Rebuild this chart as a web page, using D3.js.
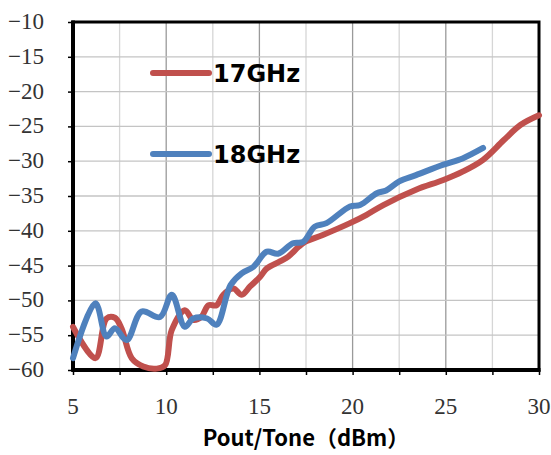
<!DOCTYPE html>
<html><head><meta charset="utf-8">
<script src="https://cdn.jsdelivr.net/npm/d3@7"></script>
<style>body{margin:0;background:#fff}
text.tl{font-family:'Liberation Serif','Times New Roman',serif;font-size:23px;fill:#333;}
</style>
</head><body>
<svg id="c" width="551" height="455"></svg>
<script>
const xTicks = [5, 10, 15, 20, 25, 30];
const yTicks = [-10, -15, -20, -25, -30, -35, -40, -45, -50, -55, -60];
const seriesNames = ["17GHz", "18GHz"];
const colors = ["#C0504D", "#4F81BD"];
const red17x = [5, 6.2, 6.8, 7.25, 7.6, 8.15, 8.77, 9.5, 9.94, 10.3, 11.0, 11.45, 11.9, 12.26, 12.7, 13.06, 13.6, 14.05, 14.5, 15.04, 15.4, 16.1, 16.55, 17.1, 17.45, 18.4, 19.86, 20.75, 21.65, 23.4, 24.87, 25.9, 27.0, 28.1, 29.0, 30];
const red17y = [-53.8, -58.3, -52.6, -52.5, -54, -58.3, -59.5, -59.8, -59.3, -54.25, -51.4, -52.8, -52.3, -50.7, -50.7, -49.2, -48.3, -49.2, -48.0, -46.6, -45.4, -44.4, -43.7, -42.3, -41.6, -40.6, -38.9, -37.7, -36.3, -34.1, -32.7, -31.5, -29.8, -27.0, -24.8, -23.4];
const blue18x = [5, 6.2, 6.8, 7.25, 7.88, 8.68, 9.67, 10.3, 11.0, 11.45, 12.2, 12.7, 13.45, 14.05, 14.67, 15.4, 16.0, 16.8, 17.35, 17.97, 18.6, 19.86, 20.4, 21.3, 21.8, 22.5, 23.4, 24.87, 25.9, 27.0];
const blue18y = [-58.3, -50.4, -55.2, -54, -55.7, -51.6, -52.4, -49.2, -53.8, -52.6, -52.6, -53.5, -47.8, -46.1, -45.2, -43, -43.3, -41.8, -41.6, -39.4, -38.9, -36.5, -36.3, -34.6, -34.2, -32.9, -32.0, -30.5, -29.6, -28.1];

const svg = d3.select("#c");
const L = 73, R = 539, T = 22, B = 370;
const x = d3.scaleLinear().domain([5, 30]).range([L, R]);
const y = d3.scaleLinear().domain([-60, -10]).range([B, T]);

// grid
const minor = d3.range(5, 30.01, 2.5);
svg.append("g").selectAll("line").data(minor).join("line")
  .attr("x1", d => x(d)).attr("x2", d => x(d)).attr("y1", T).attr("y2", B)
  .attr("stroke", d => (d % 5 === 0) ? "#9a9a9a" : "#d6d6d6").attr("stroke-width", 1.3);
svg.append("g").selectAll("line").data(yTicks).join("line")
  .attr("x1", L).attr("x2", R).attr("y1", d => y(d)).attr("y2", d => y(d))
  .attr("stroke", "#c4c4c4").attr("stroke-width", 1.3);

// axes (tick marks via d3 axis)
const yAxis = svg.append("g").attr("transform", `translate(${L},0)`)
  .call(d3.axisLeft(y).tickValues(yTicks).tickSize(5).tickFormat(""));
yAxis.select(".domain").remove();
yAxis.selectAll("line").attr("stroke", "#000").attr("stroke-width", 1.5);
const xAxis = svg.append("g").attr("transform", `translate(0,${B})`)
  .call(d3.axisBottom(x).tickValues(minor).tickSize(5).tickFormat(""));
xAxis.select(".domain").remove();
xAxis.selectAll("line").attr("stroke", "#000").attr("stroke-width", 1.5);

// tick labels
svg.append("g").selectAll("text").data(yTicks).join("text").attr("class", "tl")
  .attr("x", 44).attr("y", d => y(d) + 7).attr("text-anchor", "end")
  .text(d => String(d).replace("-", "\u2212"));
svg.append("g").selectAll("text").data(xTicks).join("text").attr("class", "tl")
  .attr("x", d => x(d)).attr("y", 414).attr("text-anchor", "middle")
  .text(d => d);

// frame
svg.append("rect").attr("x", L).attr("y", T).attr("width", R - L).attr("height", B - T)
  .attr("fill", "none").attr("stroke", "#000").attr("stroke-width", 3);
svg.append("line").attr("x1", L).attr("x2", L).attr("y1", T - 1.5).attr("y2", B + 1.5).attr("stroke", "#000").attr("stroke-width", 4);
svg.append("line").attr("x1", L - 1.5).attr("x2", R + 1.5).attr("y1", B).attr("y2", B).attr("stroke", "#000").attr("stroke-width", 4);

// lines
const line = d3.line().x(d => x(d[0])).y(d => y(d[1])).curve(d3.curveCatmullRom.alpha(0.5));
const data = [d3.zip(red17x, red17y), d3.zip(blue18x, blue18y)];
svg.append("g").selectAll("path").data(data).join("path")
  .attr("d", line).attr("fill", "none")
  .attr("stroke", (d, i) => colors[i]).attr("stroke-width", 6)
  .attr("stroke-linecap", "round").attr("stroke-linejoin", "round");

// legend
const legY = [73, 154];
const lg = svg.append("g");
seriesNames.forEach((n, i) => {
  lg.append("line").attr("x1", 153).attr("x2", 209).attr("y1", legY[i]).attr("y2", legY[i])
    .attr("stroke", colors[i]).attr("stroke-width", 6).attr("stroke-linecap", "round");
  lg.append("text").attr("x", 213).attr("y", legY[i] + 9).text(n)
    .attr("font-family", "DejaVu Sans, sans-serif").attr("font-weight", "bold").attr("font-size", 24).attr("fill", "#000");
});

// x title
svg.append("text").attr("x", 306).attr("y", 446).attr("text-anchor", "middle")
  .attr("font-family", "Noto Sans CJK SC, sans-serif").attr("font-weight", "bold").attr("font-size", 22)
  .attr("fill", "#000").text("Pout/Tone（dBm）");
</script>
</body></html>
